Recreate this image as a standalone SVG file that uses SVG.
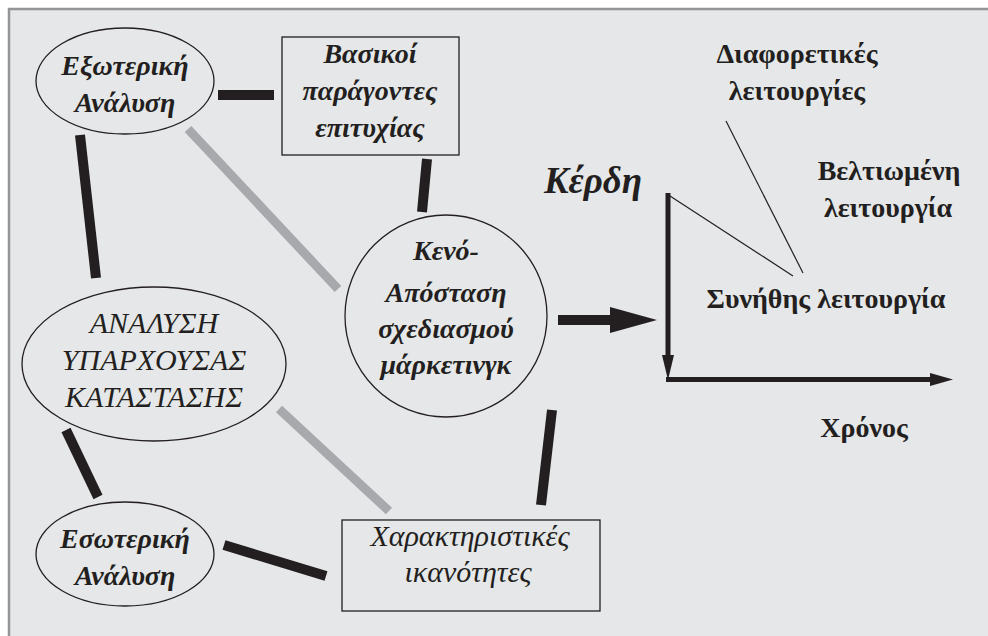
<svg xmlns="http://www.w3.org/2000/svg" width="988" height="636" viewBox="0 0 988 636">
  <style>
    .node { fill: none; stroke: #231f20; stroke-width: 1.3; }
    .t { font-family: "Liberation Serif", "DejaVu Serif", serif; fill: #231f20; text-anchor: middle; }
    .bi { font-weight: bold; font-style: italic; font-size: 28px; }
    .it { font-style: italic; font-size: 30px; }
    .b { font-weight: bold; font-size: 28px; }
    .thick { stroke: #231f20; stroke-width: 10; fill: none; }
    .grey { stroke: #a7a9ac; stroke-width: 9; fill: none; }
    .axis { stroke: #231f20; stroke-width: 5; fill: none; }
    .thin { stroke: #231f20; stroke-width: 1.2; fill: none; }
  </style>

  <!-- page background and frame -->
  <rect x="0" y="0" width="988" height="636" fill="#ffffff"/>
  <rect x="9" y="9" width="990" height="640" fill="#e6e7e8" stroke="#939598" stroke-width="2.5"/>

  <!-- connectors -->
  <g id="connectors">
    <line class="thick" x1="218" y1="95" x2="274" y2="95"/>
    <line class="thick" x1="80" y1="135" x2="96" y2="278"/>
    <line class="grey" x1="188" y1="129" x2="338" y2="289"/>
    <line class="thick" x1="427" y1="159" x2="422" y2="212"/>
    <line class="thick" x1="66" y1="430" x2="98" y2="497"/>
    <line class="grey" x1="279" y1="409" x2="389" y2="511"/>
    <line class="thick" x1="224" y1="545" x2="326" y2="576"/>
    <line class="thick" x1="552" y1="410" x2="541" y2="505"/>
    <!-- arrow into the chart -->
    <line class="thick" x1="558" y1="320" x2="612" y2="320"/>
    <polygon points="610,307 657,320 610,333" fill="#231f20"/>
  </g>

  <g id="external-analysis">
    <ellipse class="node" cx="125" cy="81" rx="89" ry="53"/>
    <text class="t bi" x="125" y="75">Εξωτερική</text>
    <text class="t bi" x="125" y="112">Ανάλυση</text>
  </g>

  <g id="key-success-factors">
    <rect class="node" x="282" y="37" width="177" height="118"/>
    <text class="t bi" x="370" y="63">Βασικοί</text>
    <text class="t bi" x="370" y="100">παράγοντες</text>
    <text class="t bi" x="370" y="137">επιτυχίας</text>
  </g>

  <g id="planning-gap">
    <circle class="node" cx="446" cy="316" r="101"/>
    <text class="t bi" x="446" y="260">Κενό-</text>
    <text class="t bi" x="446" y="302">Απόσταση</text>
    <text class="t bi" x="446" y="338">σχεδιασμού</text>
    <text class="t bi" x="446" y="374">μάρκετινγκ</text>
  </g>

  <g id="situation-analysis">
    <ellipse class="node" cx="154" cy="364" rx="132" ry="77"/>
    <text class="t it" x="154" y="333">ΑΝΑΛΥΣΗ</text>
    <text class="t it" x="154" y="370">ΥΠΑΡΧΟΥΣΑΣ</text>
    <text class="t it" x="154" y="407">ΚΑΤΑΣΤΑΣΗΣ</text>
  </g>

  <g id="internal-analysis">
    <ellipse class="node" cx="125" cy="554" rx="89" ry="52"/>
    <text class="t bi" x="125" y="548">Εσωτερική</text>
    <text class="t bi" x="125" y="585">Ανάλυση</text>
  </g>

  <g id="distinctive-competences">
    <rect class="node" x="342" y="520" width="258" height="91"/>
    <text class="t it" x="470" y="546">Χαρακτηριστικές</text>
    <text class="t it" x="468" y="582">ικανότητες</text>
  </g>

  <!-- profit / time chart -->
  <g id="chart">
    <line class="axis" x1="668" y1="193" x2="668" y2="358"/>
    <polygon points="662,355 674,355 668,380" fill="#231f20"/>
    <line class="axis" x1="666" y1="379.5" x2="932" y2="379.5"/>
    <polygon points="930,373 953,379.5 930,386" fill="#231f20"/>
    <line class="thin" x1="670" y1="196" x2="793" y2="276"/>
    <line class="thin" x1="726" y1="121" x2="803" y2="273"/>
    <text class="t bi" x="593" y="193" style="font-size:37px">Κέρδη</text>
    <text class="t b" x="797" y="63">Διαφορετικές</text>
    <text class="t b" x="797" y="100">λειτουργίες</text>
    <text class="t b" x="889" y="180">Βελτιωμένη</text>
    <text class="t b" x="888" y="217">λειτουργία</text>
    <text class="t b" x="826" y="308">Συνήθης λειτουργία</text>
    <text class="t b" x="864" y="437">Χρόνος</text>
  </g>
</svg>
